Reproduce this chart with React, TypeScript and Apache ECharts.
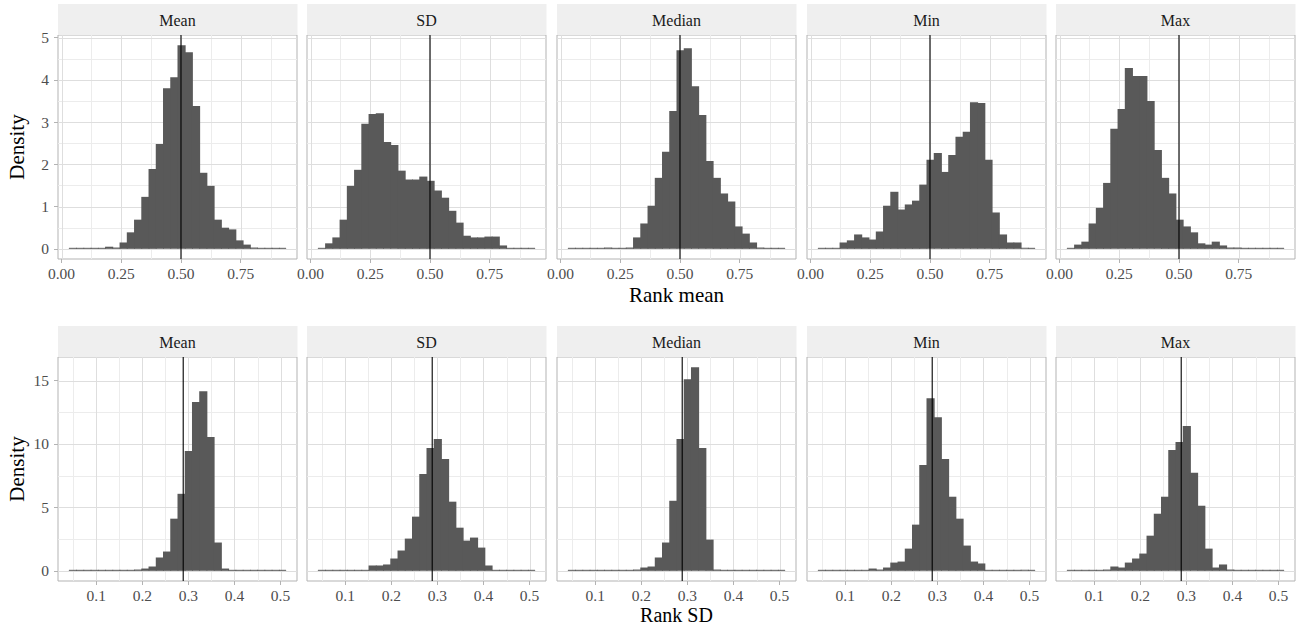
import React, { useEffect, useRef } from "react";
import * as echarts from "echarts";

// ---------- data ----------
const PANELS = ["Mean", "SD", "Median", "Min", "Max"];

// Row 1: "Rank mean" histograms (density per bin, 30 bins)
const MEAN_BIN_START = 0.0306;
const MEAN_BIN_WIDTH = 0.03032;
const rankMean_Mean = [0, 0, 0, 0, 0, 0.05, 0.03, 0.15, 0.39, 0.69, 1.23, 1.89, 2.48, 3.8, 4.06, 4.82, 4.65, 3.38, 1.8, 1.49, 0.69, 0.5, 0.46, 0.2, 0.1, 0.03, 0.01, 0, 0, 0];
const rankMean_SD = [0.02, 0.13, 0.27, 0.69, 1.49, 1.87, 2.96, 3.19, 3.21, 2.53, 2.46, 1.85, 1.64, 1.64, 1.71, 1.61, 1.38, 1.21, 0.9, 0.62, 0.31, 0.27, 0.27, 0.29, 0.29, 0.08, 0, 0, 0, 0];
const rankMean_Median = [0, 0, 0, 0, 0, 0.03, 0, 0, 0.03, 0.27, 0.6, 1.02, 1.68, 2.3, 3.26, 4.7, 4.75, 3.85, 3.17, 2.08, 1.68, 1.31, 1.12, 0.53, 0.36, 0.15, 0.03, 0, 0, 0];
const rankMean_Min = [0, 0, 0.02, 0.15, 0.2, 0.34, 0.27, 0.22, 0.41, 1.02, 1.35, 0.93, 1.05, 1.14, 1.52, 2.11, 2.27, 1.82, 2.22, 2.65, 2.77, 3.47, 3.45, 2.11, 0.86, 0.34, 0.15, 0.15, 0, 0];
const rankMean_Max = [0.02, 0.1, 0.17, 0.6, 0.97, 1.56, 2.84, 3.31, 4.28, 4.09, 4.09, 3.5, 2.34, 1.68, 1.31, 0.69, 0.53, 0.39, 0.13, 0.1, 0.17, 0.08, 0.03, 0.03, 0, 0, 0, 0, 0, 0];

// Row 2: "Rank SD" histograms
const SD_BIN_START = 0.0405;
const SD_BIN_WIDTH = 0.01572;
const rankSD_Mean = [0, 0, 0, 0, 0, 0, 0, 0, 0, 0.1, 0.18, 0.34, 1.05, 1.52, 4.11, 6.07, 9.45, 13.3, 14.16, 10.55, 2.23, 0.18, 0, 0, 0, 0, 0, 0, 0, 0];
const rankSD_SD = [0, 0, 0, 0, 0, 0, 0, 0.42, 0.42, 0.5, 0.97, 1.6, 2.54, 4.27, 7.64, 9.69, 10.39, 8.82, 5.45, 3.4, 2.38, 2.62, 1.83, 0.42, 0, 0, 0, 0, 0, 0];
const rankSD_Median = [0, 0, 0, 0, 0, 0, 0, 0, 0, 0.1, 0.26, 0.34, 1.05, 2.23, 5.52, 10.39, 15.1, 16.05, 9.69, 2.46, 0.1, 0, 0, 0, 0, 0, 0, 0, 0, 0];
const rankSD_Min = [0, 0, 0, 0, 0, 0, 0, 0.18, 0.1, 0.26, 0.65, 0.73, 1.75, 3.64, 8.35, 13.6, 12.1, 8.82, 5.84, 4.11, 1.99, 0.73, 0.58, 0, 0, 0, 0, 0, 0, 0];
const rankSD_Max = [0, 0, 0, 0, 0, 0.1, 0.34, 0.26, 0.65, 0.97, 1.36, 2.77, 4.5, 5.84, 9.53, 10.16, 11.41, 7.72, 5.13, 1.75, 0.26, 0.5, 0.1, 0, 0, 0, 0, 0, 0, 0];

const MEAN_REF = 0.5;
const SD_REF = 0.2887;

const meanXTicks = [0, 0.25, 0.5, 0.75];
const meanXMinor = [0.125, 0.375, 0.625, 0.875];
const meanYTicks = [0, 1, 2, 3, 4, 5];
const meanYMinor = [0.5, 1.5, 2.5, 3.5, 4.5];
const sdXTicks = [0.1, 0.2, 0.3, 0.4, 0.5];
const sdXMinor = [0.05, 0.15, 0.25, 0.35, 0.45];
const sdYTicks = [0, 5, 10, 15];
const sdYMinor = [2.5, 7.5, 12.5];

const X_TITLE_TOP = "Rank mean";
const X_TITLE_BOTTOM = "Rank SD";
const Y_TITLE = "Density";

// ---------- layout / style ----------
const FONT = '"Liberation Serif", "DejaVu Serif", serif';
const PANEL_LEFTS = [58, 307, 557, 807, 1056];
const PANEL_W = 239;
const ROWS = [
  { stripTop: 4, top: 35, height: 224 },
  { stripTop: 326, top: 357, height: 224 },
];
const STRIP_H = 31;

function expand(lo: number, hi: number) {
  const d = (hi - lo) * 0.05;
  return [lo - d, hi + d];
}

export default function App() {
  const ref = useRef<HTMLDivElement>(null);
  useEffect(() => {
    if (!ref.current) return;
    const chart = echarts.init(ref.current, undefined, { renderer: "svg" });

    const rowDefs = [
      {
        data: [rankMean_Mean, rankMean_SD, rankMean_Median, rankMean_Min, rankMean_Max],
        start: MEAN_BIN_START,
        width: MEAN_BIN_WIDTH,
        refv: MEAN_REF,
        xTicks: meanXTicks,
        xMinor: meanXMinor,
        yTicks: meanYTicks,
        yMinor: meanYMinor,
        xFmt: (v: number) => v.toFixed(2),
      },
      {
        data: [rankSD_Mean, rankSD_SD, rankSD_Median, rankSD_Min, rankSD_Max],
        start: SD_BIN_START,
        width: SD_BIN_WIDTH,
        refv: SD_REF,
        xTicks: sdXTicks,
        xMinor: sdXMinor,
        yTicks: sdYTicks,
        yMinor: sdYMinor,
        xFmt: (v: number) => v.toFixed(1),
      },
    ];

    const grids: any[] = [];
    const xAxes: any[] = [];
    const yAxes: any[] = [];
    const series: any[] = [];
    const graphics: any[] = [];

    rowDefs.forEach((row, r) => {
      const lay = ROWS[r];
      const nb = row.data[0].length;
      const [xmin, xmax] = expand(row.start, row.start + nb * row.width);
      let ymaxData = 0;
      row.data.forEach((arr) => arr.forEach((v) => (ymaxData = Math.max(ymaxData, v))));
      const [ymin, ymax] = expand(0, ymaxData);

      const gridItems: { kind: string; v: number; major: boolean }[] = [];
      row.xMinor.forEach((v) => gridItems.push({ kind: "x", v, major: false }));
      row.yMinor.forEach((v) => gridItems.push({ kind: "y", v, major: false }));
      row.xTicks.forEach((v) => gridItems.push({ kind: "x", v, major: true }));
      row.yTicks.forEach((v) => gridItems.push({ kind: "y", v, major: true }));

      PANELS.forEach((name, p) => {
        const idx = r * 5 + p;
        const left = PANEL_LEFTS[p];
        grids.push({
          left,
          top: lay.top,
          width: PANEL_W,
          height: lay.height,
          show: true,
          borderColor: "#B3B3B3",
          borderWidth: 1,
          backgroundColor: "#FFFFFF",
          containLabel: false,
        });
        xAxes.push({
          type: "value",
          gridIndex: idx,
          min: xmin,
          max: xmax,
          axisLine: { show: false, onZero: false },
          splitLine: { show: false },
          axisTick: {
            show: true,
            customValues: row.xTicks,
            length: 4,
            lineStyle: { color: "#B3B3B3", width: 1 },
          },
          axisLabel: {
            show: true,
            customValues: row.xTicks,
            formatter: row.xFmt,
            color: "#4D4D4D",
            fontFamily: FONT,
            fontSize: 15.5,
            margin: 6,
          },
        });
        yAxes.push({
          type: "value",
          gridIndex: idx,
          min: ymin,
          max: ymax,
          axisLine: { show: false, onZero: false },
          splitLine: { show: false },
          axisTick: {
            show: p === 0,
            customValues: row.yTicks,
            length: 4,
            lineStyle: { color: "#B3B3B3", width: 1 },
          },
          axisLabel: {
            show: p === 0,
            customValues: row.yTicks,
            formatter: (v: number) => String(v),
            color: "#4D4D4D",
            fontFamily: FONT,
            fontSize: 15.5,
            margin: 9,
          },
        });

        // grid lines
        series.push({
          type: "custom",
          xAxisIndex: idx,
          yAxisIndex: idx,
          z: 1,
          silent: true,
          data: gridItems.map((g) => [g.kind === "x" ? g.v : xmin, g.kind === "y" ? g.v : 0]),
          renderItem: (params: any, api: any) => {
            const g = gridItems[params.dataIndex];
            const cs = params.coordSys;
            const color = g.major ? "#DEDEDE" : "#ECECEC";
            if (g.kind === "x") {
              const x = Math.round(api.coord([g.v, 0])[0]) + 0.5;
              return {
                type: "line",
                shape: { x1: x, y1: cs.y, x2: x, y2: cs.y + cs.height },
                style: { stroke: color, lineWidth: 1 },
              };
            }
            const y = Math.round(api.coord([xmin, g.v])[1]) + 0.5;
            return {
              type: "line",
              shape: { x1: cs.x, y1: y, x2: cs.x + cs.width, y2: y },
              style: { stroke: color, lineWidth: 1 },
            };
          },
        });

        // histogram bars
        const counts = row.data[p];
        series.push({
          type: "custom",
          xAxisIndex: idx,
          yAxisIndex: idx,
          z: 2,
          silent: true,
          data: counts.map((d, k) => [row.start + k * row.width, row.start + (k + 1) * row.width, d]),
          encode: { x: [0, 1], y: 2 },
          renderItem: (params: any, api: any) => {
            const x0 = api.value(0);
            const x1 = api.value(1);
            const h = api.value(2);
            const a = api.coord([x0, 0]);
            const b = api.coord([x1, h]);
            let top = b[1];
            if (a[1] - top < 1) top = a[1] - 1;
            const isLast = params.dataIndex === counts.length - 1;
            return {
              type: "rect",
              shape: { x: a[0], y: top, width: b[0] - a[0] + (isLast ? 0 : 0.9), height: a[1] - top },
              style: { fill: "#595959" },
            };
          },
        });

        // reference line
        series.push({
          type: "custom",
          xAxisIndex: idx,
          yAxisIndex: idx,
          z: 3,
          silent: true,
          data: [[row.refv, 0]],
          renderItem: (params: any, api: any) => {
            const cs = params.coordSys;
            const x = api.coord([api.value(0), 0])[0];
            return {
              type: "line",
              shape: { x1: x, y1: cs.y, x2: x, y2: cs.y + cs.height },
              style: { stroke: "#000000", lineWidth: 1.1 },
            };
          },
        });

        // strip
        graphics.push({
          type: "rect",
          shape: { x: left, y: lay.stripTop, width: PANEL_W + 0.5, height: STRIP_H },
          style: { fill: "#EFEFEF" },
          silent: true,
        });
        graphics.push({
          type: "text",
          x: left + PANEL_W / 2,
          y: lay.stripTop + STRIP_H / 2 + 0.5,
          style: {
            text: name,
            fontFamily: FONT,
            fontSize: 16,
            fill: "#1A1A1A",
            align: "center",
            verticalAlign: "middle",
          },
          silent: true,
        });
      });

      // y title
      graphics.push({
        type: "text",
        x: 17,
        y: lay.top + lay.height / 2,
        rotation: Math.PI / 2,
        style: {
          text: Y_TITLE,
          fontFamily: FONT,
          fontSize: 21,
          fill: "#000000",
          align: "center",
          verticalAlign: "middle",
        },
        silent: true,
      });
    });

    // x titles
    const xCenter = (PANEL_LEFTS[0] + PANEL_LEFTS[4] + PANEL_W) / 2;
    graphics.push({
      type: "text",
      x: xCenter,
      y: 295,
      style: { text: X_TITLE_TOP, fontFamily: FONT, fontSize: 21, fill: "#000000", align: "center", verticalAlign: "middle" },
      silent: true,
    });
    graphics.push({
      type: "text",
      x: xCenter,
      y: 615,
      style: { text: X_TITLE_BOTTOM, fontFamily: FONT, fontSize: 20, fill: "#000000", align: "center", verticalAlign: "middle" },
      silent: true,
    });

    chart.setOption({
      animation: false,
      backgroundColor: "#FFFFFF",
      grid: grids,
      xAxis: xAxes,
      yAxis: yAxes,
      series,
      graphic: { elements: graphics },
    });

    return () => chart.dispose();
  }, []);

  return (
    <div
      ref={ref}
      style={{ position: "fixed", left: 0, top: 0, width: 1296, height: 627, background: "#FFFFFF" }}
    />
  );
}
